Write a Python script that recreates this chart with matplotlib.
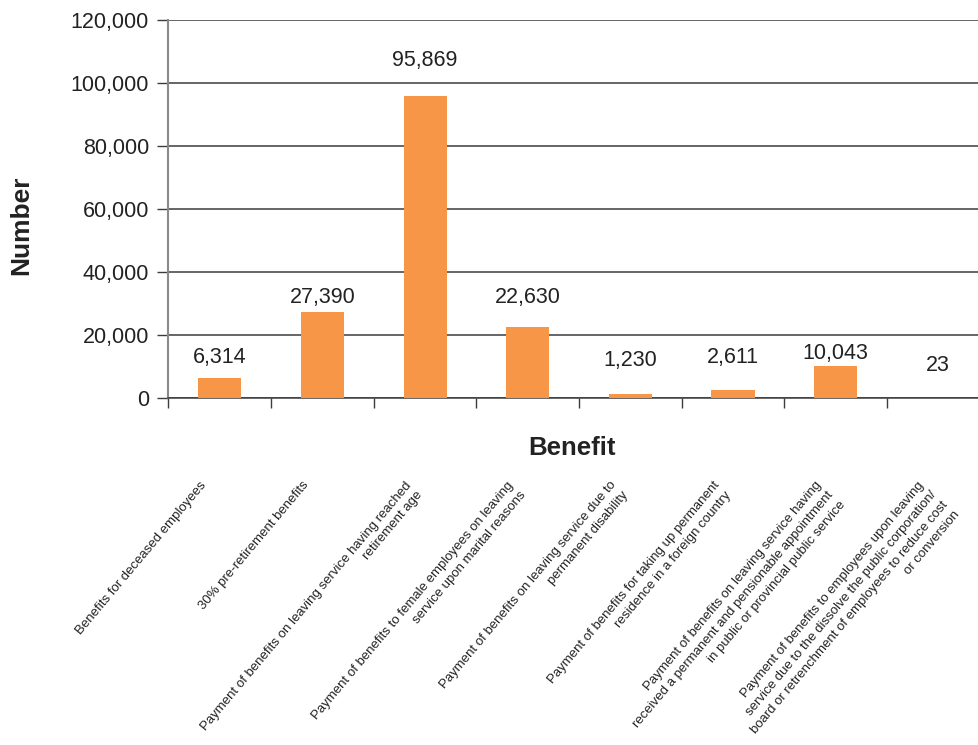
import matplotlib
matplotlib.use("Agg")
import matplotlib.pyplot as plt
from matplotlib.ticker import FuncFormatter, FixedLocator

plt.rcParams['font.family'] = ['Liberation Sans', 'DejaVu Sans']

benefits = [
    "Benefits for deceased employees",
    "30% pre-retirement benefits",
    "Payment of benefits on leaving service having reached\nretirement age",
    "Payment of benefits to female employees on leaving\nservice upon marital reasons",
    "Payment of benefits on leaving service due to\npermanent disability",
    "Payment of benefits for taking up permanent\nresidence in a foreign country",
    "Payment of benefits on leaving service having\nreceived a permanent and pensionable appointment\nin public or provincial public service",
    "Payment of benefits to employees upon leaving\nservice due to the dissolve the public corporation/\nboard or retrenchment of employees to reduce cost\nor conversion",
]
numbers = [6314, 27390, 95869, 22630, 1230, 2611, 10043, 23]
yticks = [0, 20000, 40000, 60000, 80000, 100000, 120000]

# heights where the value labels sit
label_y = [12700, 32000, 107000, 32000, 12000, 12700, 14200, 10400]

bar_color = "#F79646"
text_color = "#222222"
grid_color = "#3c3c3c"

fig = plt.figure(figsize=(9.79, 7.45), dpi=100)
ax = fig.add_axes([0.1721, 0.4658, 0.8387, 0.5080])

x = list(range(len(numbers)))
ax.bar(x, numbers, width=0.42, color=bar_color, zorder=3)

for xi, v, ly in zip(x, numbers, label_y):
    ax.text(xi, ly, f"{v:,}", ha="center", va="center",
            fontsize=15.5, color=text_color, zorder=4)

ax.set_xlim(-0.5, len(numbers) - 0.5)
ax.set_ylim(0, 120000)
ax.set_yticks(yticks)
ax.yaxis.set_major_formatter(FuncFormatter(lambda v, p: f"{int(v):,}"))
ax.tick_params(axis="y", direction="out", length=8, width=1, color=grid_color,
               labelsize=15.5, labelcolor=text_color, pad=6)
ax.grid(axis="y", color=grid_color, linewidth=1.1, zorder=1)

# category boundary ticks on the x axis
ax.xaxis.set_major_locator(FixedLocator([i - 0.5 for i in range(len(numbers) + 1)]))
ax.xaxis.set_major_formatter(FuncFormatter(lambda v, p: ""))
ax.tick_params(axis="x", direction="out", length=7, width=1, color=grid_color)

for side in ("top", "right"):
    ax.spines[side].set_visible(False)
ax.spines["left"].set_color("#8a8a8a")
ax.spines["left"].set_linewidth(1.5)
ax.spines["bottom"].set_color(grid_color)
ax.spines["bottom"].set_linewidth(1.1)

# slanted category names below the axis title
for xi, name in zip(x, benefits):
    ax.text(xi - 0.2, -0.215, name, transform=ax.get_xaxis_transform(),
            rotation=50, rotation_mode="anchor", ha="right", va="top",
            multialignment="right", fontsize=9.5, color=text_color,
            linespacing=1.35)

fig.text(572 / 979, 1 - 448 / 745, "Benefit", ha="center", va="center",
         fontsize=18.5, fontweight="bold", color=text_color)
fig.text(21 / 979, 1 - 225 / 745, "Number", ha="center", va="center",
         rotation=90, fontsize=19, fontweight="bold", color=text_color)

fig.savefig("out.png", dpi=100)
